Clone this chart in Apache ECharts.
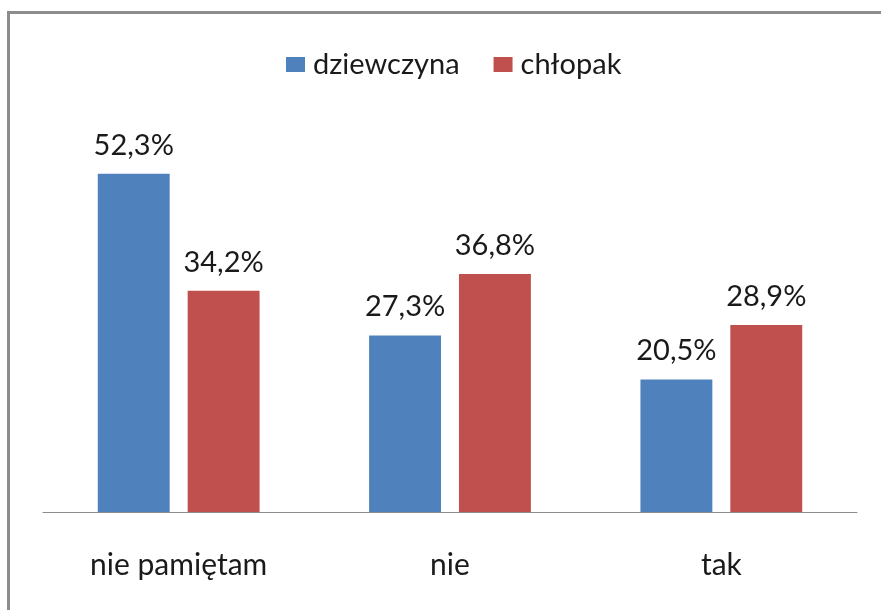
<!DOCTYPE html>
<html lang="pl">
<head>
    <meta charset="UTF-8">
    <title>dziewczyna / chłopak</title>
    <script src="https://cdn.jsdelivr.net/npm/echarts@6/dist/echarts.min.js"></script>
    <style>
        html, body { margin: 0; padding: 0; background: #fff; overflow: hidden; }
        #frame {
            position: absolute; left: 7px; top: 11px;
            width: 900px; height: 640px;
            border: 3px solid #8c8c8c;
        }
        #chart { position: absolute; left: 0; top: 0; width: 881px; height: 610px; }
    </style>
</head>
<body>
<div id="frame"></div>
<div id="chart"></div>
<script>
    let categories = ['nie pamiętam', 'nie', 'tak'];
    let girls = [52.3, 27.3, 20.5];
    let boys = [34.2, 36.8, 28.9];

    let font = 'Lato, "Open Sans", sans-serif';
    let myChart = echarts.init(document.getElementById('chart'));

    function pct(p) {
        return p.value.toFixed(1).replace('.', ',') + '%';
    }

    myChart.setOption({
        animation: false,
        legend: {
            top: 45,
            left: 281,
            icon: 'rect',
            itemWidth: 19,
            itemHeight: 15,
            itemGap: 34,
            textStyle: { fontFamily: font, fontSize: 29, color: '#1a1a1a', padding: [0, 0, 0, 3] },
            data: ['dziewczyna', 'chłopak']
        },
        grid: { left: 43, right: 24, top: 124, bottom: 98 },
        xAxis: {
            type: 'category',
            data: categories,
            axisLine: { lineStyle: { color: '#8c8c8c', width: 1 } },
            axisTick: { show: false },
            axisLabel: { margin: 38, fontFamily: font, fontSize: 30, color: '#1a1a1a' }
        },
        yAxis: {
            type: 'value',
            min: 0,
            max: 60,
            show: false
        },
        series: [
            {
                name: 'dziewczyna',
                type: 'bar',
                data: girls,
                barWidth: '26.5%',
                barGap: '25%',
                itemStyle: { color: '#4f81bd' },
                label: { show: true, position: 'top', distance: 14, formatter: pct,
                    fontFamily: font, fontSize: 29, color: '#1a1a1a' }
            },
            {
                name: 'chłopak',
                type: 'bar',
                data: boys,
                barWidth: '26.5%',
                itemStyle: { color: '#c0504d' },
                label: { show: true, position: 'top', distance: 14, formatter: pct,
                    fontFamily: font, fontSize: 29, color: '#1a1a1a' }
            }
        ]
    });
</script>
</body>
</html>
